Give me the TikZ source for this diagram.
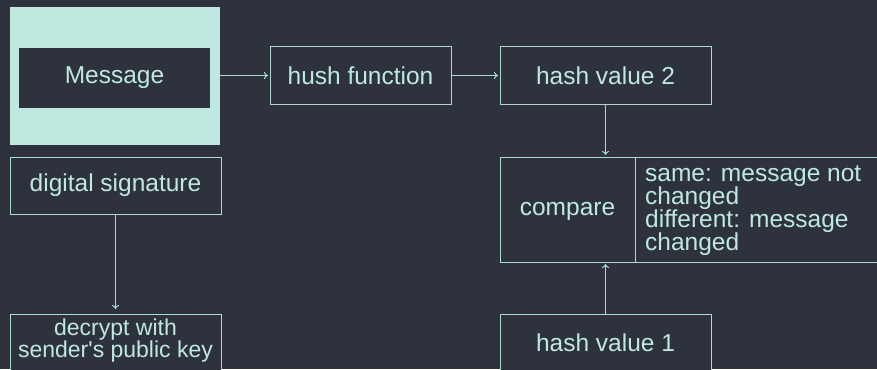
\documentclass[tikz,border=0pt]{standalone}
\usepackage{fontspec}
\newfontfamily\basefont{Liberation Sans}
\usetikzlibrary{arrows.meta}
\definecolor{bg}{HTML}{2D323D}
\definecolor{mint}{HTML}{BFE9E0}
\definecolor{linec}{HTML}{ABDACF}
\tikzset{
  box/.style={draw=linec, line width=1pt, fill=bg, inner sep=0pt, outer sep=0pt, text=mint,
    font=\basefont\fontsize{24.5}{23}\selectfont, align=center},
  lbl/.style={text=mint, font=\basefont\fontsize{24.5}{23}\selectfont, inner sep=0pt},
  conn/.style={draw=linec, line width=1pt, -{To[length=4pt,width=7pt]}, shorten >=2pt}
}
\begin{document}
\begin{tikzpicture}[x=1pt,y=-1pt]
\fill[bg] (0,0) rectangle (877,369);
\useasboundingbox (0,0) rectangle (877,369);
\clip (0,0) rectangle (877,369);
% message
\node[fill=mint, inner sep=0pt, outer sep=0pt, minimum width=210pt, minimum height=138pt] (msgouter) at (115,76) {};
\node[box, draw=none, minimum width=191pt, minimum height=60pt] (msg) at (114.5,78) {};
\node[lbl] (msgtxt) at (114.5,77.5) {Message};
\node[box, minimum width=181pt, minimum height=57pt] (hush) at (360.5,75.5) {hush function};
\node[box, minimum width=211pt, minimum height=57pt] (hash2) at (605.5,75.5) {hash value 2};
\node[box, minimum width=211pt, minimum height=57pt] (dsig) at (115.5,185.5) {digital signature};
\node[box, minimum width=211pt, minimum height=57pt] (decrypt) at (115.5,342.5) {};
\node[lbl, align=center, font=\basefont\fontsize{23}{22}\selectfont] (decrypttxt) at (115.5,341) {decrypt with\\sender's public key};
\node[box, minimum width=211pt, minimum height=57pt] (hash1) at (605.5,342.5) {hash value 1};
\node[box, minimum width=135pt, minimum height=105pt] (cmpL) at (567.5,209.5) {};
\node[lbl] (cmpLtxt) at (567.5,211) {compare};
\node[box, minimum width=245pt, minimum height=105pt] (cmpR) at (757.5,209.5) {};
\node[lbl, align=left, anchor=west] (cmptxt) at (645,210.5) {same: message not\\changed\\different: message\\changed};
% connectors
\draw[conn] (msgouter.east |- hush.west) -- (hush.west);
\draw[conn] (hush.east) -- (hash2.west);
\draw[conn] (hash2.south) -- (hash2.south |- cmpL.north);
\draw[conn] (hash1.north) -- (hash1.north |- cmpL.south);
\draw[conn, shorten >=5pt] (dsig.south) -- (decrypt.north);
\end{tikzpicture}
\end{document}
